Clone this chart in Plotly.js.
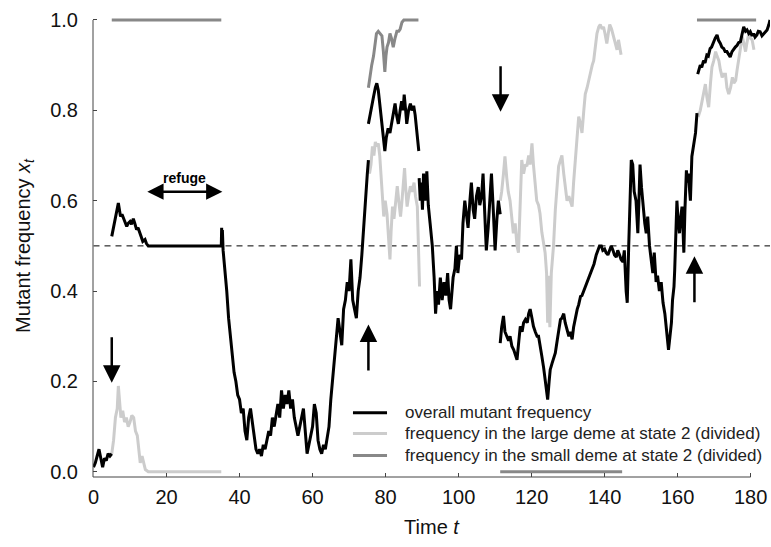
<!DOCTYPE html>
<html>
<head>
<meta charset="utf-8">
<script src="https://cdn.plot.ly/plotly-3.0.1.min.js"></script>
<style>html,body{margin:0;padding:0;background:#fff;}#chart{width:771px;height:547px;}</style>
</head>
<body>
<div id="chart"></div>
<script>
// ---- data (time t, mutant frequency) ; null = break between segments ----
const overallFreq = [
 [0,0.01],[0.5,0.02],[1,0.035],[1.5,0.05],[2,0.03],[2.5,0.01],[3,0.03],[3.5,0.025],[4,0.04],[4.5,0.035],[5,0.04], null,
 [5,0.521],[5.5,0.54],[5.9,0.558],[6.3,0.57],[6.8,0.595],[7.1,0.58],[7.4,0.565],[7.8,0.57],[8.3,0.558],[8.7,0.55],[9.1,0.543],[9.5,0.55],[10,0.554],[10.4,0.548],[10.9,0.56],[11.3,0.55],[11.8,0.536],[12.2,0.54],[12.7,0.528],[13.1,0.515],[13.5,0.51],[14.1,0.514],[14.5,0.505],[15,0.5],[35,0.5],[35.1,0.54],[35.2,0.5],[35.3,0.535],
 [35.5,0.49],[36,0.45],[36.5,0.40],[37,0.34],[37.5,0.30],[38,0.26],[38.5,0.22],[39,0.20],[39.5,0.17],[40,0.16],[40.5,0.13],[41,0.14],[41.5,0.09],[42,0.07],[42.5,0.12],[43,0.14],[43.5,0.11],[44,0.07],[44.5,0.05],[45,0.04],[45.5,0.05],[46,0.035],[46.5,0.06],[47,0.05],[47.5,0.07],[48,0.09],[48.5,0.08],[49,0.12],[49.5,0.10],[50,0.13],[50.5,0.15],[51,0.12],[51.5,0.18],[52,0.14],[52.5,0.17],[53,0.15],[53.5,0.18],[54,0.14],[54.5,0.16],[55,0.12],[55.5,0.10],[56,0.08],[56.5,0.10],[57,0.12],[57.5,0.14],[58,0.09],[58.5,0.04],[59,0.06],[59.5,0.08],[60,0.10],[60.5,0.15],[61,0.13],[61.5,0.07],[62,0.05],[62.5,0.04],[63,0.06],[63.5,0.05],[64,0.08],[64.5,0.10],[65,0.16],[65.5,0.21],[66,0.26],[66.5,0.30],[67,0.34],[67.5,0.31],[68,0.28],[68.5,0.36],[69,0.38],[69.5,0.42],[70,0.40],[70.5,0.47],[71,0.38],[71.5,0.36],[72,0.34],[72.5,0.40],[73,0.43],[73.5,0.48],[74,0.53],[74.5,0.60],[75,0.66],[75.3,0.69], null,
 [75.3,0.77],[75.7,0.79],[76.2,0.81],[76.7,0.83],[77.2,0.85],[77.6,0.86],[78,0.845],[78.5,0.81],[79,0.78],[79.4,0.74],[79.8,0.71],[80.2,0.74],[80.7,0.76],[81.2,0.75],[81.6,0.77],[82.1,0.79],[82.6,0.815],[83,0.79],[83.5,0.77],[84,0.80],[84.4,0.82],[84.8,0.80],[85.1,0.835],[85.5,0.80],[85.8,0.77],[86.3,0.80],[86.8,0.815],[87.2,0.80],[87.7,0.81],[88.1,0.79],[88.4,0.77],[88.8,0.74],[89.1,0.71], null,
 [89.2,0.65],[89.5,0.60],[89.8,0.64],[90.1,0.58],[90.4,0.66],[90.8,0.60],[91.3,0.665],[91.7,0.59],[92.2,0.55],[92.8,0.50],[93.3,0.43],[93.7,0.35],[94.1,0.40],[94.5,0.37],[95,0.43],[95.5,0.38],[96,0.42],[96.5,0.39],[97,0.44],[97.4,0.38],[97.8,0.36],[98.2,0.40],[98.5,0.43],[99,0.45],[99.4,0.50],[99.8,0.44],[100.3,0.48],[100.8,0.47],[101.2,0.55],[101.7,0.60],[102.2,0.56],[102.6,0.54],[103.1,0.60],[103.5,0.64],[104,0.58],[104.4,0.56],[104.9,0.61],[105.4,0.63],[105.8,0.59],[106.3,0.61],[106.7,0.66],[107.2,0.57],[107.6,0.49],[108.1,0.54],[108.6,0.60],[109,0.66],[109.5,0.58],[110,0.49],[110.5,0.56],[110.9,0.60],[111.4,0.57], null,
 [111.4,0.285],[111.8,0.32],[112.3,0.345],[112.7,0.31],[113.2,0.30],[113.7,0.29],[114.1,0.30],[114.6,0.278],[115.1,0.27],[115.5,0.26],[116,0.248],[116.5,0.29],[116.9,0.322],[117.4,0.31],[117.8,0.33],[118.3,0.337],[118.8,0.33],[119.2,0.35],[119.6,0.36],[120.1,0.34],[120.5,0.322],[121,0.31],[121.5,0.30],[121.9,0.30],[122.4,0.27],[122.8,0.256],[123.3,0.23],[123.7,0.204],[124.1,0.18],[124.4,0.16],[124.8,0.20],[125.1,0.226],[125.6,0.24],[126,0.25],[126.5,0.263],[127,0.29],[127.4,0.31],[127.9,0.337],[128.3,0.34],[128.8,0.35],[129.2,0.33],[129.7,0.315],[130.2,0.30],[130.6,0.31],[131.1,0.293],[131.5,0.32],[132,0.344],[132.5,0.36],[132.9,0.37],[133.4,0.388],[133.8,0.39],[134.3,0.40],[134.7,0.41],[135.2,0.418],[135.7,0.43],[136.1,0.44],[136.6,0.447],[137.1,0.46],[137.7,0.48],[138.2,0.49],[138.6,0.50],[139.1,0.50],[139.5,0.49],[140,0.493],[140.4,0.485],[140.9,0.48],[141.3,0.49],[141.8,0.50],[142.3,0.49],[142.7,0.48],[143.2,0.475],[143.6,0.49],[144.1,0.48],[144.5,0.47],[145,0.465],[145.4,0.49],[145.9,0.40],[146.2,0.374],[146.6,0.50],[147,0.62],[147.3,0.69],[147.7,0.68],[148.1,0.62],[148.6,0.60],[149.1,0.528],[149.4,0.60],[149.7,0.68],[150.1,0.63],[150.5,0.587],[151,0.55],[151.4,0.528],[151.8,0.565],[152.3,0.50],[152.7,0.47],[153.2,0.44],[153.6,0.485],[154.1,0.42],[154.5,0.434],[155,0.40],[155.5,0.42],[156,0.374],[156.5,0.35],[156.9,0.315],[157.2,0.29],[157.5,0.27],[157.9,0.30],[158.3,0.33],[158.6,0.38],[159,0.41],[159.2,0.447],[159.5,0.53],[159.8,0.60],[160.1,0.56],[160.5,0.528],[160.8,0.56],[161.2,0.587],[161.5,0.53],[161.7,0.485],[162,0.58],[162.4,0.667],[162.7,0.64],[163,0.66],[163.3,0.62],[163.5,0.60],[163.9,0.698],[164.4,0.72],[164.9,0.75],[165.3,0.794], null,
 [165.5,0.88],[165.8,0.89],[166.2,0.90],[166.6,0.895],[167.1,0.91],[167.5,0.905],[168,0.922],[168.4,0.92],[168.9,0.937],[169.3,0.94],[169.8,0.952],[170.3,0.96],[170.8,0.967],[171.2,0.955],[171.7,0.948],[172.1,0.94],[172.6,0.937],[173,0.93],[173.5,0.93],[173.9,0.925],[174.4,0.918],[174.9,0.93],[175.4,0.937],[175.8,0.94],[176.3,0.944],[176.7,0.95],[177.2,0.952],[177.7,0.97],[178.1,0.985],[178.6,0.975],[179,0.978],[179.5,0.97],[179.9,0.974],[180.4,0.965],[180.8,0.97],[181.2,0.962],[181.7,0.967],[182.1,0.975],[182.6,0.974],[183.1,0.965],[183.6,0.97],[184,0.972],[184.5,0.978],[185,0.99],[185.3,1.0]
];

const largeDemeFreq = [
 [5,0.04],[5.5,0.07],[6,0.12],[6.5,0.14],[6.8,0.19],[7.1,0.16],[7.5,0.12],[8,0.135],[8.5,0.11],[9,0.12],[9.5,0.10],[10,0.11],[10.5,0.125],[11,0.12],[11.5,0.09],[12,0.08],[12.5,0.05],[12.8,0.02],[13.3,0.035],[13.7,0.02],[14.2,0.005],[15,0],[35,0], null,
 [75.3,0.69],[75.6,0.66],[76,0.68],[76.4,0.72],[76.8,0.70],[77.2,0.73],[77.6,0.72],[78,0.727],[78.4,0.70],[78.7,0.66],[79,0.632],[79.5,0.565],[79.9,0.60],[80.4,0.57],[80.8,0.52],[81.2,0.47],[81.5,0.53],[81.9,0.587],[82.3,0.56],[82.7,0.60],[83.2,0.632],[83.6,0.60],[84.1,0.565],[84.5,0.60],[84.8,0.64],[85.2,0.672],[85.5,0.63],[85.9,0.587],[86.3,0.61],[86.8,0.632],[87.3,0.62],[87.8,0.64],[88.2,0.61],[88.7,0.587],[89,0.50],[89.2,0.44],[89.3,0.41], null,
 [111.4,0.60],[111.8,0.62],[112.3,0.66],[112.7,0.698],[113.2,0.65],[113.6,0.62],[114.1,0.60],[114.6,0.56],[115,0.528],[115.5,0.55],[116,0.50],[116.4,0.485],[116.8,0.60],[117.3,0.69],[117.8,0.66],[118.3,0.68],[118.7,0.676],[119.2,0.70],[119.6,0.68],[120.1,0.727],[120.5,0.68],[121,0.632],[121.4,0.60],[121.9,0.59],[122.3,0.572],[122.8,0.53],[123.3,0.50],[123.7,0.485],[124.1,0.44],[124.4,0.33],[124.6,0.434],[125,0.32],[125.4,0.44],[126,0.50],[126.5,0.58],[127,0.64],[127.4,0.676],[127.9,0.69],[128.3,0.70],[128.8,0.66],[129.3,0.62],[129.7,0.60],[130.2,0.61],[130.6,0.60],[131.1,0.587],[131.5,0.64],[132,0.69],[132.5,0.74],[132.9,0.786],[133.4,0.77],[133.8,0.75],[134.3,0.80],[134.7,0.836],[135.2,0.85],[135.7,0.87],[136.1,0.888],[136.6,0.90],[137,0.91],[137.5,0.94],[137.9,0.97],[138.4,0.985],[138.8,0.99],[139.3,0.98],[139.7,0.985],[140.1,0.97],[140.6,0.948],[141,0.97],[141.4,0.99],[141.9,0.98],[142.5,0.963],[142.9,0.95],[143.4,0.934],[143.8,0.956],[144.2,0.94],[144.5,0.923], null,
 [165.3,0.794],[165.8,0.79],[166.2,0.80],[166.7,0.82],[167.1,0.84],[167.6,0.858],[168,0.83],[168.5,0.807],[169,0.86],[169.4,0.896],[169.9,0.91],[170.4,0.93],[170.8,0.92],[171.3,0.91],[171.7,0.89],[172.2,0.873],[172.6,0.88],[173.1,0.88],[173.5,0.85],[174,0.836],[174.5,0.85],[175,0.873],[175.4,0.86],[175.9,0.866],[176.3,0.89],[176.8,0.918],[177.2,0.94],[177.7,0.963],[178.1,0.95],[178.6,0.93],[179,0.95],[179.5,0.97],[179.9,0.96],[180.4,0.956],[180.9,0.934]
];

const smallDemeFreq = [
 [5,1.0],[35,1.0], null,
 [75.3,0.85],[75.6,0.87],[75.8,0.88],[76.2,0.90],[76.7,0.92],[77.1,0.94],[77.5,0.97],[78,0.975],[78.5,0.97],[79,0.965],[79.4,0.93],[79.8,0.885],[80.1,0.92],[80.4,0.94],[80.8,0.95],[81.2,0.97],[81.6,0.96],[82.1,0.94],[82.6,0.96],[83.1,0.975],[83.6,0.975],[84,0.98],[84.5,0.995],[85,1.0],[89,1.0], null,
 [111.4,0],[144.8,0], null,
 [165.3,1.0],[181.5,1.0]
];

// state-change arrows: [t, tail value, head value]
const stateArrows = [[5,0.30,0.197],[75.3,0.222,0.326],[111.5,0.90,0.797],[164.6,0.373,0.477]];
// refuge interval
const refugeSpan = [14.6, 35.3];
const refugeLevel = 0.62;
const refugeLabel = "refuge";

const seriesNames = ["overall mutant frequency",
  "frequency in the large deme at state 2 (divided)",
  "frequency in the small deme at state 2 (divided)"];
const xTicks = [0,20,40,60,80,100,120,140,160,180];
const yTicks = [0,0.2,0.4,0.6,0.8,1.0];
const neutralLevel = 0.5;

// ---- styling ----
const COL_BLACK = "#000000", COL_LIGHT = "#cccccc", COL_DARK = "#888888", AXC = "#444444";
const FONT = "Liberation Sans, Arial, Helvetica, sans-serif";
const xRange = [-0.14, 185.3];
const yRange = [-0.0115, 1.011];

function split(pairs){
  return {x: pairs.map(p => p ? p[0] : null), y: pairs.map(p => p ? p[1] : null)};
}
const sO = split(overallFreq), sL = split(largeDemeFreq), sS = split(smallDemeFreq);

const traces = [
  {x: sL.x, y: sL.y, mode: "lines", line: {color: COL_LIGHT, width: 3}, name: seriesNames[1], showlegend: false, connectgaps: false},
  {x: sS.x, y: sS.y, mode: "lines", line: {color: COL_DARK, width: 3}, name: seriesNames[2], showlegend: false, connectgaps: false},
  {x: sO.x, y: sO.y, mode: "lines", line: {color: COL_BLACK, width: 3}, name: seriesNames[0], showlegend: false, connectgaps: false}
];

const shapes = [
  {type: "line", xref: "x", yref: "y", x0: 0, x1: xRange[1], y0: neutralLevel, y1: neutralLevel, line: {color: "#000", width: 1, dash: "6px,5px"}, layer: "below"},
  {type: "line", xref: "paper", yref: "y", x0: 0, x1: 0, y0: yRange[0], y1: yTicks[yTicks.length-1], line: {color: AXC, width: 1}},
  {type: "line", xref: "x", yref: "paper", x0: xRange[0], x1: xTicks[xTicks.length-1], y0: 0, y1: 0, line: {color: AXC, width: 1}}
];

const annotations = [];
stateArrows.forEach(a => {
  annotations.push({x: a[0], y: a[2], ax: a[0], ay: a[1], xref: "x", yref: "y", axref: "x", ayref: "y",
    text: " ", font: {size: 1}, borderpad: 0, showarrow: true, arrowhead: 2, arrowsize: 1.4, arrowwidth: 2.5, arrowcolor: "#000"});
});
annotations.push({x: refugeSpan[1], y: refugeLevel, ax: refugeSpan[0], ay: refugeLevel, xref: "x", yref: "y", axref: "x", ayref: "y",
  text: " ", font: {size: 1}, borderpad: 0, showarrow: true, arrowside: "end+start", arrowhead: 2, startarrowhead: 2, arrowsize: 1.3, startarrowsize: 1.3, arrowwidth: 2.5, arrowcolor: "#000"});
annotations.push({x: (refugeSpan[0]+refugeSpan[1])/2, y: refugeLevel, xref: "x", yref: "y", yshift: 14, text: "<b>" + refugeLabel + "</b>",
  showarrow: false, font: {family: FONT, size: 14, color: "#000"}});

// legend drawn in paper coordinates
const legendRowsY = [0.1392, 0.0942, 0.0465];
const legendColors = [COL_BLACK, COL_LIGHT, COL_DARK];
legendRowsY.forEach((yy, i) => {
  shapes.push({type: "line", xref: "paper", yref: "paper", x0: 0.384, x1: 0.4343, y0: yy, y1: yy, line: {color: legendColors[i], width: 3}});
  annotations.push({xref: "paper", yref: "paper", x: 0.4572, y: yy, xanchor: "left", yanchor: "middle", text: seriesNames[i],
    showarrow: false, font: {family: FONT, size: 17, color: "#222"}});
});

const layout = {
  width: 771, height: 547,
  margin: {l: 93, r: 1, t: 15, b: 70},
  paper_bgcolor: "#fff", plot_bgcolor: "#fff",
  font: {family: FONT, color: "#111"},
  showlegend: false,
  xaxis: {range: xRange, tickvals: xTicks, ticktext: xTicks.map(String), ticks: "inside", ticklen: 4, tickcolor: AXC, tickwidth: 1,
    showgrid: false, zeroline: false, showline: false, tickfont: {family: FONT, size: 20, color: "#111"}, ticklabelstandoff: 6,
    title: {text: "Time <i>t</i>", font: {family: FONT, size: 20, color: "#111"}, standoff: 12}, automargin: false},
  yaxis: {range: yRange, tickvals: yTicks, ticktext: yTicks.map(v => v.toFixed(1)), ticks: "inside", ticklen: 4, tickcolor: AXC, tickwidth: 1,
    showgrid: false, zeroline: false, showline: false, tickfont: {family: FONT, size: 20, color: "#111"}, ticklabelstandoff: 14,
    title: {text: "Mutant frequency <i>x</i><sub><i>t</i></sub>", font: {family: FONT, size: 20, color: "#111"}, standoff: 14}, automargin: false},
  shapes: shapes,
  annotations: annotations
};

Plotly.newPlot("chart", traces, layout, {displayModeBar: false, staticPlot: true});
</script>
</body>
</html>
